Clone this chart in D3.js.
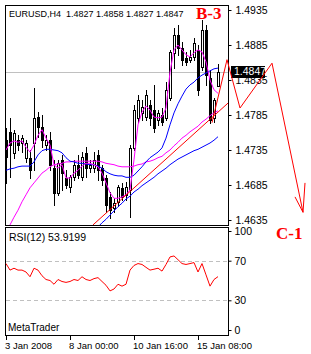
<!DOCTYPE html>
<html>
<head>
<meta charset="utf-8">
<script src="https://cdn.jsdelivr.net/npm/d3@7"></script>
<style>
  body { margin: 0; background: #fff; }
  svg text { font-family: "Liberation Sans", Arial, sans-serif; }
</style>
</head>
<body>
<div id="chart"></div>
<script>
// EURUSD H4 bars (oldest -> newest)
const open  = [1.4749,1.4761,1.4731,1.4749,1.4745,1.4724,1.4724,1.4745,1.4782,1.4768,1.4742,1.4749,1.4709,1.4674,1.4721,1.4695,1.4682,1.4696,1.4714,1.4696,1.4731,1.4709,1.4709,1.4728,1.4709,1.4695,1.4668,1.4652,1.4661,1.4681,1.4671,1.4678,1.4738,1.4781,1.4788,1.4782,1.4799,1.4792,1.4778,1.4785,1.4781,1.4809,1.4874,1.4899,1.4881,1.4866,1.4864,1.4868,1.4878,1.4854,1.4906,1.4838,1.4781,1.4827];
const high  = [1.4766,1.4781,1.4764,1.4756,1.4756,1.4749,1.4735,1.4824,1.4789,1.4785,1.4756,1.4761,1.4721,1.4721,1.4728,1.4706,1.4699,1.4721,1.4728,1.4732,1.4739,1.4721,1.4732,1.4735,1.4714,1.4699,1.4675,1.4666,1.4685,1.4688,1.4689,1.4742,1.4799,1.4814,1.4806,1.4821,1.4806,1.4828,1.4792,1.4795,1.4832,1.4878,1.4909,1.4914,1.4889,1.4875,1.4878,1.4895,1.4885,1.4921,1.4914,1.4849,1.4809,1.4858];
const low   = [1.4688,1.4696,1.4724,1.4735,1.4732,1.4718,1.4695,1.4706,1.4754,1.4739,1.4735,1.4706,1.4656,1.4671,1.4678,1.4681,1.4675,1.4692,1.4695,1.4692,1.4696,1.4704,1.4704,1.4692,1.4685,1.4646,1.4638,1.4646,1.4655,1.4664,1.4664,1.4639,1.4735,1.4775,1.4778,1.4778,1.4771,1.4761,1.4771,1.4771,1.4778,1.4806,1.4852,1.4871,1.4856,1.4856,1.4861,1.4864,1.4814,1.4849,1.4828,1.4774,1.4775,1.4827];
const close = [1.4725,1.4742,1.4759,1.4742,1.4752,1.4745,1.4706,1.4781,1.4768,1.4749,1.4749,1.4714,1.4674,1.4716,1.4702,1.4685,1.4696,1.4714,1.4699,1.4725,1.4709,1.4714,1.4721,1.4706,1.4692,1.4656,1.4649,1.4659,1.4682,1.4668,1.4682,1.4738,1.4792,1.4806,1.4796,1.4814,1.4781,1.4766,1.4788,1.4775,1.4821,1.4875,1.4899,1.4881,1.4864,1.4861,1.4868,1.4888,1.4821,1.4906,1.4842,1.4778,1.4806,1.4847];

// moving averages
const maFast = [1.4735,1.4745,1.4748,1.4746,1.4748,1.4739,1.4732,1.4742,1.4756,1.4764,1.4752,1.4742,1.4714,1.4709,1.4714,1.4695,1.4695,1.4702,1.4706,1.4712,1.4716,1.4716,1.4714,1.4711,1.4702,1.4688,1.4674,1.4666,1.4666,1.4668,1.4671,1.4678,1.4721,1.4771,1.4789,1.4798,1.4792,1.4782,1.4781,1.4782,1.4795,1.4846,1.4878,1.4885,1.4878,1.4871,1.4868,1.4874,1.4878,1.4875,1.4861,1.4835,1.4821,1.4816];
const maMid = [1.4706,1.4708,1.4709,1.4711,1.4712,1.4712,1.4712,1.4718,1.4728,1.4734,1.4736,1.4736,1.4735,1.4734,1.4731,1.4724,1.4719,1.4718,1.4716,1.4716,1.4715,1.4714,1.4714,1.4712,1.4709,1.4704,1.4701,1.4699,1.4698,1.4698,1.4696,1.4696,1.4699,1.4705,1.4711,1.4718,1.4724,1.4728,1.4732,1.4738,1.4752,1.4771,1.4788,1.4801,1.4812,1.4822,1.4828,1.4832,1.4838,1.4842,1.4845,1.4848,1.4851,1.4852];
const maSlow = [1.4616,1.4628,1.4639,1.4649,1.4661,1.4671,1.4681,1.4688,1.4695,1.4702,1.4706,1.4711,1.4714,1.4715,1.4716,1.4718,1.4718,1.4719,1.4719,1.4719,1.4719,1.4719,1.4719,1.4719,1.4718,1.4716,1.4715,1.4714,1.4712,1.4711,1.4711,1.4711,1.4712,1.4714,1.4715,1.4718,1.4719,1.4721,1.4724,1.4726,1.4731,1.4735,1.4741,1.4746,1.4752,1.4756,1.4761,1.4765,1.4769,1.4775,1.4779,1.4784,1.4788,1.4791];
const maLongStart = 23;
const maLong = [1.4625,1.4631,1.4636,1.4642,1.4648,1.4654,1.4659,1.4665,1.4669,1.4675,1.4679,1.4684,1.4688,1.4692,1.4696,1.4701,1.4705,1.4709,1.4714,1.4718,1.4722,1.4725,1.4728,1.4731,1.4734,1.4736,1.4739,1.4742,1.4745,1.4749,1.4754];

// RSI(12)
const rsi = [67.1,60.5,62.4,60.5,60.5,58.6,53.8,62.4,60.5,54.8,51.0,50.0,46.2,51.0,49.0,48.1,49.0,51.0,50.0,53.8,51.0,50.0,51.9,52.9,49.0,45.2,39.5,41.4,46.2,44.3,46.2,60.5,65.2,67.1,66.2,63.3,60.5,61.4,62.4,59.5,66.2,73.8,74.8,71.0,67.1,66.2,67.1,68.1,58.6,67.1,55.7,44.3,51.0,53.9];

// drawn objects: trend line and wave forecast (bar index, price)
const trendLine = [{i: 21.75, p: 1.4628}, {i: 55.5, p: 1.4802}];
const forecast  = [{i: 51.5, p: 1.4774}, {i: 55.25, p: 1.4864}, {i: 58.5, p: 1.4795}, {i: 66.5, p: 1.4859}, {i: 74.25, p: 1.4646}];
const arrowHead = [{i: 72.25, p: 1.4668}, {i: 74.25, p: 1.4646}, {i: 74.75, p: 1.4688}];

const priceTicks = [1.4935, 1.4885, 1.4835, 1.4785, 1.4735, 1.4685, 1.4635];
const rsiTicks = [100, 70, 30, 0];
const timeTicks = [{i: 0, label: "3 Jan 2008"}, {i: 16, label: "8 Jan 00:00"}, {i: 32, label: "10 Jan 16:00"}, {i: 48, label: "15 Jan 08:00"}];
const lastPrice = 1.4847;

const width = 311, height = 354;
const main = {left: 5, right: 228, top: 5, bottom: 225};
const sub = {top: 227, bottom: 335};

const svg = d3.select("#chart").append("svg")
    .attr("width", width)
    .attr("height", height);

const x = d3.scaleLinear().domain([-0.25, 55.5]).range([main.left, main.right]);
const y = d3.scaleLinear().domain([1.4935, 1.4635]).range([10, 220]);
const yr = d3.scaleLinear().domain([0, 100]).range([330, 231]);

svg.append("clipPath").attr("id", "clipMain")
  .append("rect").attr("x", main.left).attr("y", main.top)
  .attr("width", main.right - main.left).attr("height", main.bottom - main.top);
svg.append("clipPath").attr("id", "clipSub")
  .append("rect").attr("x", main.left).attr("y", sub.top)
  .attr("width", main.right - main.left).attr("height", sub.bottom - sub.top);

const px = v => Math.round(v) + 0.5;

// last price line
svg.append("line")
  .attr("x1", main.left).attr("x2", main.right)
  .attr("y1", px(y(lastPrice))).attr("y2", px(y(lastPrice)))
  .attr("stroke", "#c0c0c0");

const g = svg.append("g").attr("clip-path", "url(#clipMain)");

// candles
const bars = d3.range(open.length).map(i => ({i, o: open[i], h: high[i], l: low[i], c: close[i]}));
const cg = g.append("g").selectAll("g").data(bars).join("g");
cg.append("line")
  .attr("x1", d => px(x(d.i))).attr("x2", d => px(x(d.i)))
  .attr("y1", d => Math.round(y(d.h))).attr("y2", d => Math.round(y(d.l)) + 1)
  .attr("stroke", "#000");
cg.append("rect")
  .attr("x", d => d.c >= d.o ? Math.round(x(d.i)) - 0.5 : Math.round(x(d.i)) - 1)
  .attr("y", d => d.c >= d.o ? Math.round(y(d.c)) + 0.5 : Math.round(y(d.o)))
  .attr("width", d => d.c >= d.o ? 2 : 3)
  .attr("height", d => d.c >= d.o ? Math.max(1, Math.round(y(d.o)) - Math.round(y(d.c))) : Math.max(1, Math.round(y(d.c)) - Math.round(y(d.o)) + 1))
  .attr("fill", d => d.c >= d.o ? "#fff" : "#000")
  .attr("stroke", d => d.c >= d.o ? "#000" : "none");

// moving averages
const maLine = d3.line().defined(d => d != null).x((d, i) => x(i)).y(d => y(d));
g.append("path").attr("d", maLine(maSlow)).attr("fill", "none").attr("stroke", "#ff00ff");
g.append("path").attr("d", maLine(maMid)).attr("fill", "none").attr("stroke", "#0000ff");
g.append("path")
  .attr("d", d3.line().x((d, k) => x(k + maLongStart)).y(d => y(d))(maLong))
  .attr("fill", "none").attr("stroke", "#0000ff");
g.append("path").attr("d", maLine(maFast)).attr("fill", "none").attr("stroke", "#ff00ff");
g.append("path")
  .attr("d", d3.line().x(d => x(d.i)).y(d => y(d.p))(trendLine))
  .attr("fill", "none").attr("stroke", "#ff0000");

// frames
svg.append("rect").attr("x", main.left + 0.5).attr("y", main.top + 0.5)
  .attr("width", main.right - main.left).attr("height", main.bottom - main.top)
  .attr("fill", "none").attr("stroke", "#000");
svg.append("rect").attr("x", main.left + 0.5).attr("y", sub.top + 0.5)
  .attr("width", main.right - main.left).attr("height", sub.bottom - sub.top)
  .attr("fill", "none").attr("stroke", "#000");

// price axis
svg.append("g")
  .attr("transform", `translate(${main.right + 0.5},0)`)
  .call(d3.axisRight(y).tickValues(priceTicks).tickFormat(d3.format(".4f")).tickSize(3).tickPadding(4))
  .call(a => a.select(".domain").remove())
  .call(a => a.selectAll("text").attr("font-size", 10.5).attr("fill", "#000").attr("font-family", null));

// last price box
svg.append("rect").attr("x", 231).attr("y", Math.round(y(lastPrice)) - 6)
  .attr("width", 34).attr("height", 12).attr("fill", "#000");
svg.append("text").attr("x", 234).attr("y", y(lastPrice))
  .attr("dy", "0.35em").attr("font-size", 10.5).attr("fill", "#fff")
  .text(lastPrice.toFixed(4));

// RSI panel
svg.append("g").selectAll("line").data([70, 30]).join("line")
  .attr("x1", main.left + 1).attr("x2", main.right)
  .attr("y1", d => px(yr(d))).attr("y2", d => px(yr(d)))
  .attr("stroke", "#c0c0c0").attr("stroke-dasharray", "4,3");
svg.append("g").attr("clip-path", "url(#clipSub)")
  .append("path")
  .attr("d", d3.line().x((d, i) => x(i)).y(d => yr(d))(rsi))
  .attr("fill", "none").attr("stroke", "#ff0000");

svg.append("g")
  .attr("transform", `translate(${main.right + 0.5},0)`)
  .call(d3.axisRight(yr).tickValues(rsiTicks).tickSize(3).tickPadding(3))
  .call(a => a.select(".domain").remove())
  .call(a => a.selectAll("text").attr("font-size", 10.5).attr("fill", "#000").attr("font-family", null));

// time axis
const tg = svg.append("g").selectAll("g").data(timeTicks).join("g");
tg.append("line")
  .attr("x1", d => px(x(d.i))).attr("x2", d => px(x(d.i)))
  .attr("y1", sub.bottom + 1).attr("y2", sub.bottom + 5)
  .attr("stroke", "#000");
tg.append("text")
  .attr("x", d => x(d.i) - 1).attr("y", 349)
  .attr("font-size", 9.5)
  .text(d => d.label);

// forecast zigzag (drawn over everything)
svg.append("path")
  .attr("d", d3.line().x(d => x(d.i)).y(d => y(d.p))(forecast))
  .attr("fill", "none").attr("stroke", "#ff0000");
svg.append("path")
  .attr("d", d3.line().x(d => x(d.i)).y(d => y(d.p))(arrowHead))
  .attr("fill", "none").attr("stroke", "#ff0000");

// labels
svg.append("text").attr("x", 9).attr("y", 17).attr("font-size", 9)
  .attr("xml:space", "preserve").style("white-space", "pre")
  .text("EURUSD,H4  1.4827 1.4858 1.4827 1.4847");
svg.append("text").attr("x", 9).attr("y", 241).attr("font-size", 10.5)
  .text("RSI(12) 53.9199");
svg.append("text").attr("x", 8).attr("y", 331).attr("font-size", 10)
  .text("MetaTrader");
svg.append("text").attr("x", 196).attr("y", 19)
  .attr("font-size", 17).attr("font-weight", "bold").attr("fill", "#ff0000")
  .style("font-family", "'Liberation Serif', 'Times New Roman', serif")
  .text("B-3");
svg.append("text").attr("x", 276).attr("y", 239)
  .attr("font-size", 17).attr("font-weight", "bold").attr("fill", "#ff0000")
  .style("font-family", "'Liberation Serif', 'Times New Roman', serif")
  .text("C-1");
</script>
</body>
</html>
